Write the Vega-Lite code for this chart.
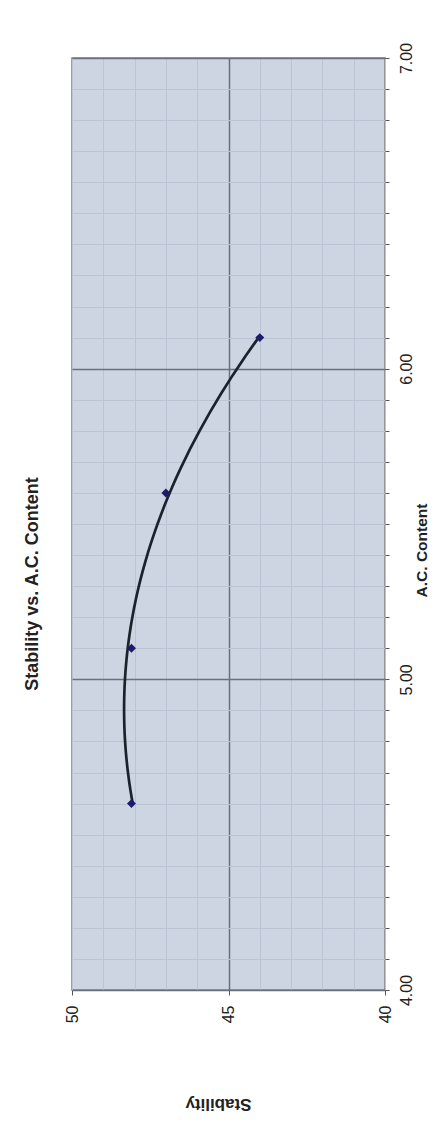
{
  "$schema": "https://vega.github.io/schema/vega-lite/v6.json",
  "width": 313,
  "height": 932,
  "autosize": {"type": "none"},
  "padding": {"left": 72, "top": 58, "right": 52, "bottom": 150},
  "background": "white",
  "title": {
    "text": "Stability vs. A.C. Content",
    "orient": "left",
    "anchor": "middle",
    "offset": 22,
    "dx": -60,
    "font": "Liberation Sans",
    "fontSize": 18,
    "fontWeight": "bold",
    "color": "#222222"
  },
  "data": {
    "values": [
      {"AC": 4.6, "Stability": 48.1},
      {"AC": 5.1, "Stability": 48.1},
      {"AC": 5.6, "Stability": 47.0},
      {"AC": 6.1, "Stability": 44.0}
    ]
  },
  "encoding": {
    "x": {
      "field": "Stability",
      "type": "quantitative",
      "scale": {"domain": [40, 50], "reverse": true, "nice": false, "zero": false},
      "axis": {
        "orient": "bottom",
        "title": "Stability",
        "values": [40, 41, 42, 43, 44, 45, 46, 47, 48, 49, 50],
        "labelExpr": "datum.value % 5 === 0 ? datum.label : ''",
        "labelOverlap": false,
        "labelAngle": 270,
        "labelAlign": "right",
        "labelBaseline": "middle",
        "labelPadding": 10,
        "labelFont": "Liberation Sans",
        "labelFontSize": 16,
        "labelColor": "#222222",
        "tickSize": 5,
        "tickColor": "#555555",
        "tickOpacity": {"condition": {"test": "datum.value % 5 === 0", "value": 1}, "value": 0},
        "domain": false,
        "grid": true,
        "gridColor": {"condition": {"test": "datum.value === 45", "value": "#6b717c"}, "value": "#bac4d4"},
        "gridWidth": {"condition": {"test": "datum.value === 45", "value": 1.5}, "value": 1},
        "titleAngle": 180,
        "titleX": 146,
        "titleY": 113,
        "titleAlign": "center",
        "titleBaseline": "middle",
        "titleFont": "Liberation Sans",
        "titleFontSize": 17,
        "titleFontWeight": "bold",
        "titleColor": "#222222"
      }
    },
    "y": {
      "field": "AC",
      "type": "quantitative",
      "scale": {"domain": [4, 7], "nice": false, "zero": false},
      "axis": {
        "orient": "right",
        "title": "A.C. Content",
        "values": [4, 4.1, 4.2, 4.3, 4.4, 4.5, 4.6, 4.7, 4.8, 4.9, 5, 5.1, 5.2, 5.3, 5.4, 5.5, 5.6, 5.7, 5.8, 5.9, 6, 6.1, 6.2, 6.3, 6.4, 6.5, 6.6, 6.7, 6.8, 6.9, 7],
        "labelExpr": "abs(datum.value - round(datum.value)) < 0.001 ? format(datum.value, '.2f') : ''",
        "labelOverlap": false,
        "labelAngle": 270,
        "labelAlign": "center",
        "labelBaseline": "top",
        "labelPadding": 9,
        "labelFont": "Liberation Sans",
        "labelFontSize": 16,
        "labelColor": "#222222",
        "tickSize": 4,
        "tickColor": "#555555",
        "domain": false,
        "grid": true,
        "gridColor": {"condition": {"test": "abs(datum.value - round(datum.value)) < 0.001", "value": "#6b717c"}, "value": "#bac4d4"},
        "gridWidth": {"condition": {"test": "abs(datum.value - round(datum.value)) < 0.001", "value": 1.5}, "value": 1},
        "titleAngle": 270,
        "titleX": 36,
        "titleY": 492,
        "titleAlign": "center",
        "titleBaseline": "middle",
        "titleFont": "Liberation Sans",
        "titleFontSize": 15.5,
        "titleFontWeight": "bold",
        "titleColor": "#222222"
      }
    }
  },
  "layer": [
    {
      "transform": [{"regression": "Stability", "on": "AC", "method": "poly", "order": 2}],
      "mark": {"type": "line", "color": "#1c222c", "strokeWidth": 2.7},
      "encoding": {"order": {"field": "AC", "type": "quantitative"}}
    },
    {
      "mark": {"type": "point", "shape": "diamond", "filled": true, "color": "#1b1b6b", "size": 80, "opacity": 1}
    }
  ],
  "config": {
    "font": "Liberation Sans",
    "view": {"fill": "#cdd5e3", "stroke": "#7f7f7f", "strokeWidth": 1.5}
  }
}
